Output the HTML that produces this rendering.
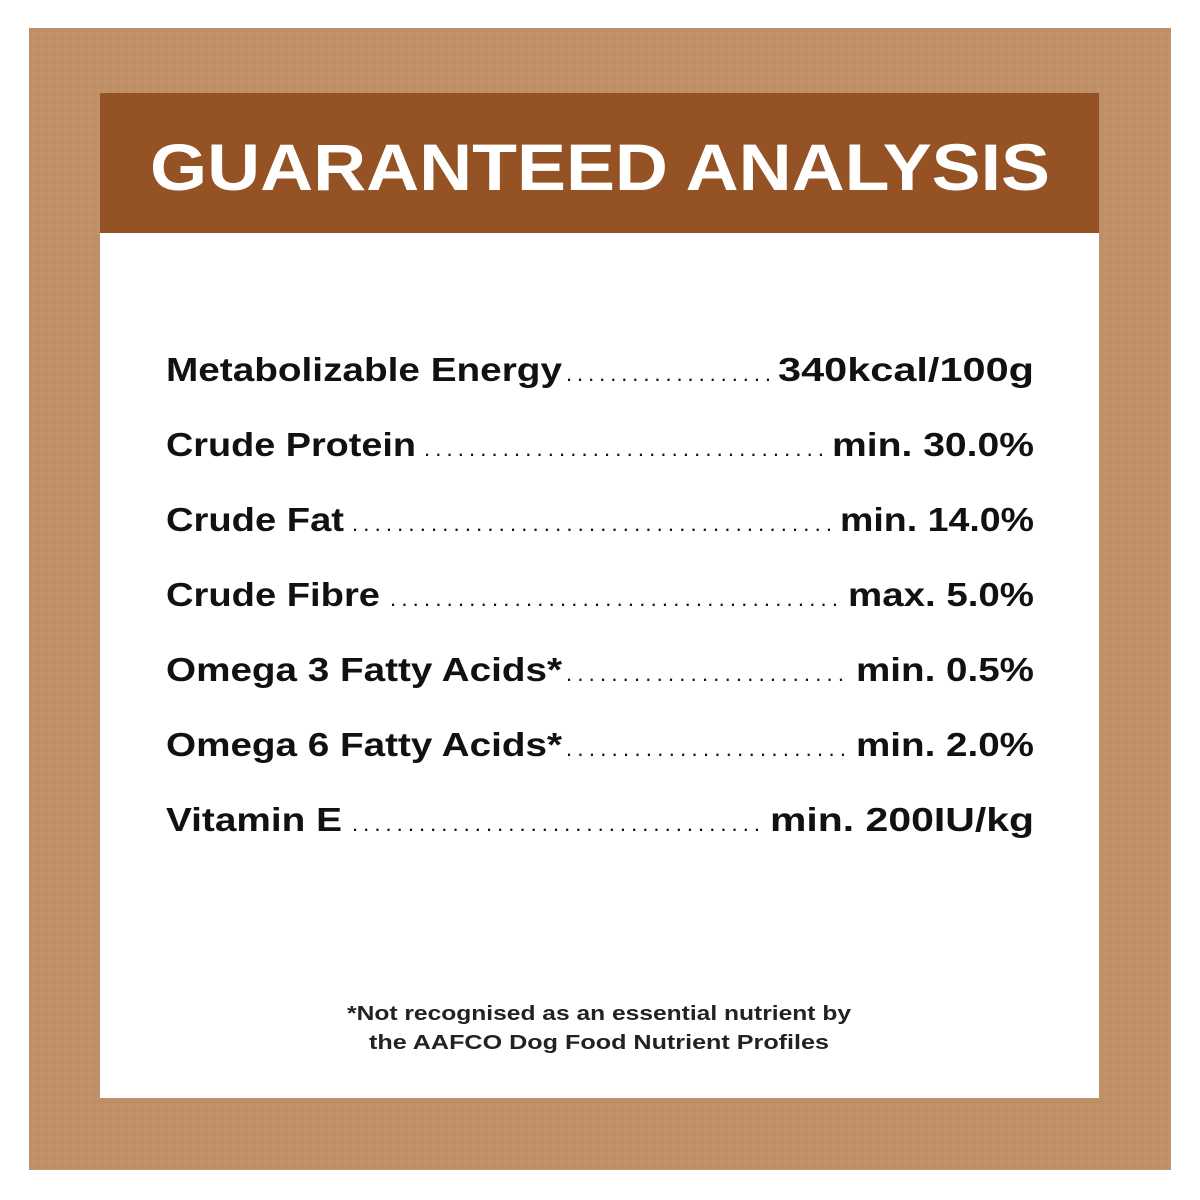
<!DOCTYPE html>
<html><head><style>
html,body{margin:0;padding:0;background:#fff;}
svg{display:block;}
</style></head><body>
<svg width="1200" height="1200" viewBox="0 0 1200 1200" xmlns="http://www.w3.org/2000/svg">
<defs>
<pattern id="tex" width="8" height="8" patternUnits="userSpaceOnUse">
<rect width="8" height="8" fill="#bf9068"/>
<circle cx="2" cy="2" r="1" fill="#d2a985" opacity="0.6"/>
<circle cx="6" cy="6" r="0.8" fill="#ac7c55" opacity="0.5"/>
</pattern>
</defs>
<rect x="29" y="28" width="1142" height="1142" fill="url(#tex)"/>
<rect x="100" y="93" width="999" height="1005" fill="#fff"/>
<rect x="100" y="93" width="999" height="140" fill="#955224"/>
<text x="150" y="190" font-family="Liberation Sans, sans-serif" font-weight="bold" font-size="66" fill="#fff" textLength="900" lengthAdjust="spacingAndGlyphs">GUARANTEED ANALYSIS</text>
<g font-family="Liberation Sans, sans-serif" font-weight="bold" font-size="33" fill="#111">
<text x="166" y="381" textLength="396" lengthAdjust="spacingAndGlyphs">Metabolizable Energy</text>
<text x="566" y="381" textLength="205" lengthAdjust="spacing" font-weight="normal" font-size="22">...................</text>
<text x="778" y="381" textLength="256" lengthAdjust="spacingAndGlyphs">340kcal/100g</text>
<text x="166" y="456" textLength="250" lengthAdjust="spacingAndGlyphs">Crude Protein</text>
<text x="424" y="456" textLength="400" lengthAdjust="spacing" font-weight="normal" font-size="22">....................................</text>
<text x="832" y="456" textLength="202" lengthAdjust="spacingAndGlyphs">min. 30.0%</text>
<text x="166" y="531" textLength="178" lengthAdjust="spacingAndGlyphs">Crude Fat</text>
<text x="352" y="531" textLength="480" lengthAdjust="spacing" font-weight="normal" font-size="22">...........................................</text>
<text x="840" y="531" textLength="194" lengthAdjust="spacingAndGlyphs">min. 14.0%</text>
<text x="166" y="606" textLength="214" lengthAdjust="spacingAndGlyphs">Crude Fibre</text>
<text x="390" y="606" textLength="448" lengthAdjust="spacing" font-weight="normal" font-size="22">........................................</text>
<text x="848" y="606" textLength="186" lengthAdjust="spacingAndGlyphs">max. 5.0%</text>
<text x="166" y="681" textLength="396" lengthAdjust="spacingAndGlyphs">Omega 3 Fatty Acids*</text>
<text x="566" y="681" textLength="278" lengthAdjust="spacing" font-weight="normal" font-size="22">.........................</text>
<text x="856" y="681" textLength="178" lengthAdjust="spacingAndGlyphs">min. 0.5%</text>
<text x="166" y="756" textLength="396" lengthAdjust="spacingAndGlyphs">Omega 6 Fatty Acids*</text>
<text x="566" y="756" textLength="280" lengthAdjust="spacing" font-weight="normal" font-size="22">.........................</text>
<text x="856" y="756" textLength="178" lengthAdjust="spacingAndGlyphs">min. 2.0%</text>
<text x="166" y="831" textLength="176" lengthAdjust="spacingAndGlyphs">Vitamin E</text>
<text x="352" y="831" textLength="408" lengthAdjust="spacing" font-weight="normal" font-size="22">.....................................</text>
<text x="770" y="831" textLength="264" lengthAdjust="spacingAndGlyphs">min. 200IU/kg</text>
</g>
<g font-family="Liberation Sans, sans-serif" font-weight="bold" font-size="20" fill="#222" text-anchor="middle">
<text x="599" y="1020" textLength="504" lengthAdjust="spacingAndGlyphs">*Not recognised as an essential nutrient by</text>
<text x="599" y="1049" textLength="460" lengthAdjust="spacingAndGlyphs">the AAFCO Dog Food Nutrient Profiles</text>
</g>
</svg>
</body></html>
